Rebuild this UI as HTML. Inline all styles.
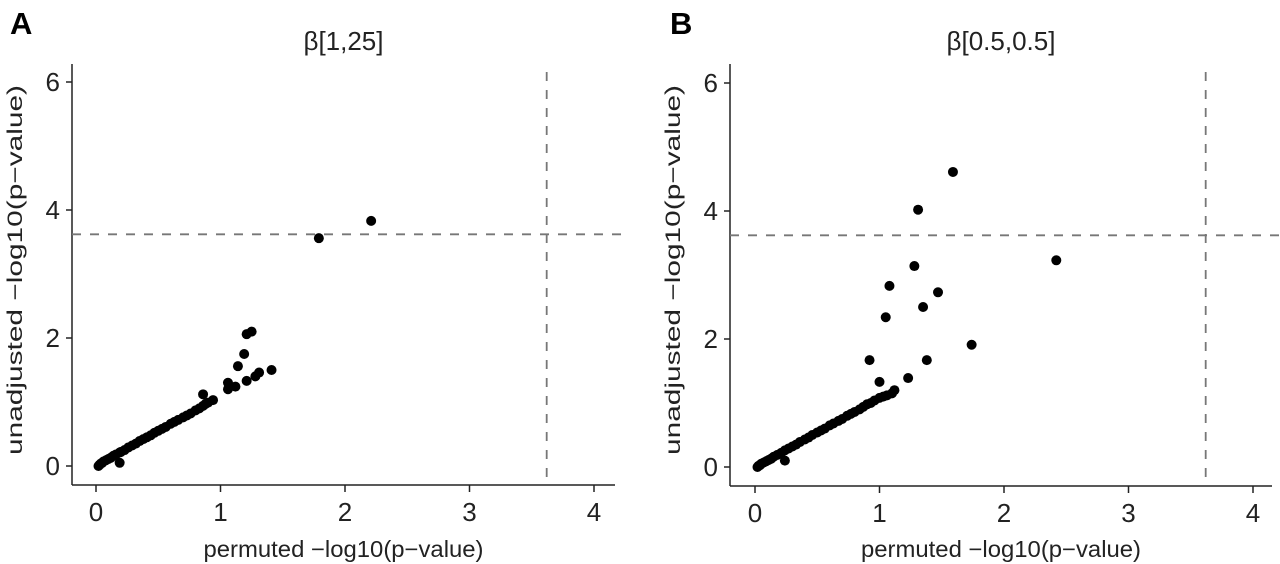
<!DOCTYPE html>
<html><head><meta charset="utf-8"><style>
html,body{margin:0;padding:0;background:#fff;}
svg{display:block;font-family:"Liberation Sans",sans-serif;}
</style></head><body>
<svg id="chart" width="1280" height="564" viewBox="0 0 1280 564">
<text x="10" y="34" font-size="31" font-weight="bold">A</text>
<text x="670" y="34" font-size="31" font-weight="bold">B</text>
</svg>
<script>
const xTicks = [0,1,2,3,4];
const yTicks = [0,2,4,6];
const threshold = 3.62;
const titles = ["β[1,25]","β[0.5,0.5]"];
const aX = [0.02,0.03,0.04,0.05,0.06,0.08,0.1,0.12,0.14,0.16,0.19,0.2,0.23,0.26,0.29,0.32,0.35,0.38,0.41,0.44,0.47,0.5,0.53,0.56,0.6,0.63,0.66,0.7,0.73,0.76,0.8,0.83,0.86,0.88,0.9,0.94,0.19,0.86,1.06,1.06,1.12,1.21,1.28,1.31,1.41,1.14,1.19,1.21,1.25,1.79,2.21];
const aY = [0.0,0.02,0.04,0.05,0.07,0.09,0.11,0.13,0.16,0.18,0.21,0.22,0.25,0.29,0.32,0.35,0.39,0.42,0.45,0.48,0.52,0.55,0.58,0.61,0.66,0.69,0.72,0.76,0.79,0.82,0.87,0.9,0.94,0.97,0.99,1.03,0.05,1.12,1.2,1.3,1.24,1.33,1.4,1.46,1.5,1.56,1.75,2.06,2.1,3.56,3.83];
const bX = [0.02,0.03,0.04,0.05,0.07,0.09,0.11,0.13,0.15,0.18,0.21,0.24,0.27,0.3,0.33,0.36,0.4,0.43,0.46,0.5,0.53,0.56,0.6,0.63,0.67,0.7,0.74,0.77,0.8,0.84,0.87,0.9,0.93,0.96,1.0,1.03,1.06,1.1,1.12,0.24,0.92,1.0,1.23,1.38,1.05,1.35,1.47,1.08,1.28,1.31,1.59,1.74,2.42];
const bY = [0.0,0.02,0.03,0.05,0.07,0.09,0.11,0.13,0.16,0.19,0.22,0.26,0.29,0.32,0.35,0.39,0.43,0.46,0.5,0.54,0.57,0.6,0.65,0.68,0.72,0.75,0.8,0.83,0.86,0.9,0.94,0.98,1.0,1.04,1.08,1.1,1.12,1.15,1.2,0.1,1.67,1.33,1.39,1.67,2.34,2.5,2.73,2.83,3.14,4.02,4.61,1.91,3.23];
const panels = [
  {name:"a", axisX:72, axisY:485, x0:96, xEnd:615, title:titles[0], xs:aX, ys:aY},
  {name:"b", axisX:730, axisY:486, x0:755, xEnd:1272, title:titles[1], xs:bX, ys:bY}
];
const NS="http://www.w3.org/2000/svg";
const svg=document.getElementById('chart');
function mk(tag,attrs,parent){const e=document.createElementNS(NS,tag);for(const k in attrs)e.setAttribute(k,attrs[k]);(parent||svg).appendChild(e);return e;}
panels.forEach(p=>{
  const xs=124.5, ys=64, y0=p.axisY-19;
  const sx=v=>p.x0+v*xs, sy=v=>y0-v*ys;
  const g=mk('g',{});
  
  
  const t=mk('text',{x:(p.axisX+p.xEnd)/2,y:50,'font-size':26,'text-anchor':'middle',fill:'#222'},g);
  t.textContent=p.title;
  
  
  const ya=mk('line',{x1:p.axisX,y1:64,x2:p.axisX,y2:p.axisY,stroke:'#222','stroke-width':1.5},g);
  
  
  const xa=mk('line',{x1:p.axisX,y1:p.axisY,x2:p.xEnd,y2:p.axisY,stroke:'#222','stroke-width':1.5},g);
  
  
  yTicks.forEach(v=>{
    mk('line',{x1:p.axisX-6,y1:sy(v),x2:p.axisX,y2:sy(v),stroke:'#222','stroke-width':1.5},g);
    const l=mk('text',{x:p.axisX-12,y:sy(v)+9,'font-size':26,'text-anchor':'end',fill:'#222'},g);
    l.textContent=v;
    
    
  });
  xTicks.forEach(v=>{
    mk('line',{x1:sx(v),y1:p.axisY,x2:sx(v),y2:p.axisY+7,stroke:'#222','stroke-width':1.5},g);
    const l=mk('text',{x:sx(v),y:p.axisY+36,'font-size':26,'text-anchor':'middle',fill:'#222'},g);
    l.textContent=v;
    
    
  });
  const xt=mk('text',{x:(p.axisX+p.xEnd)/2,y:557,'font-size':23,'text-anchor':'middle',fill:'#222',textLength:280,lengthAdjust:'spacingAndGlyphs'},g);
  xt.textContent='permuted −log10(p−value)';
  
  
  const yx=p.axisX-50, yy=270;
  const yt=mk('text',{x:yx,y:yy,'font-size':21,'text-anchor':'middle',fill:'#222',textLength:370,lengthAdjust:'spacingAndGlyphs',transform:`rotate(-90 ${yx} ${yy})`},g);
  yt.textContent='unadjusted −log10(p−value)';
  
  
  const hl=mk('line',{x1:p.axisX,y1:sy(threshold),x2:p.xEnd+10,y2:sy(threshold),stroke:'#777','stroke-width':1.8,'stroke-dasharray':'9,9'},g);
  
  
  const vl=mk('line',{x1:sx(threshold),y1:72,x2:sx(threshold),y2:p.axisY,stroke:'#777','stroke-width':1.8,'stroke-dasharray':'9,9'},g);
  
  
  p.xs.forEach((v,i)=>{
    const c=mk('circle',{cx:sx(v),cy:sy(p.ys[i]),r:5,fill:'#000'},g);
    
    
  });
});
</script>
</body></html>
